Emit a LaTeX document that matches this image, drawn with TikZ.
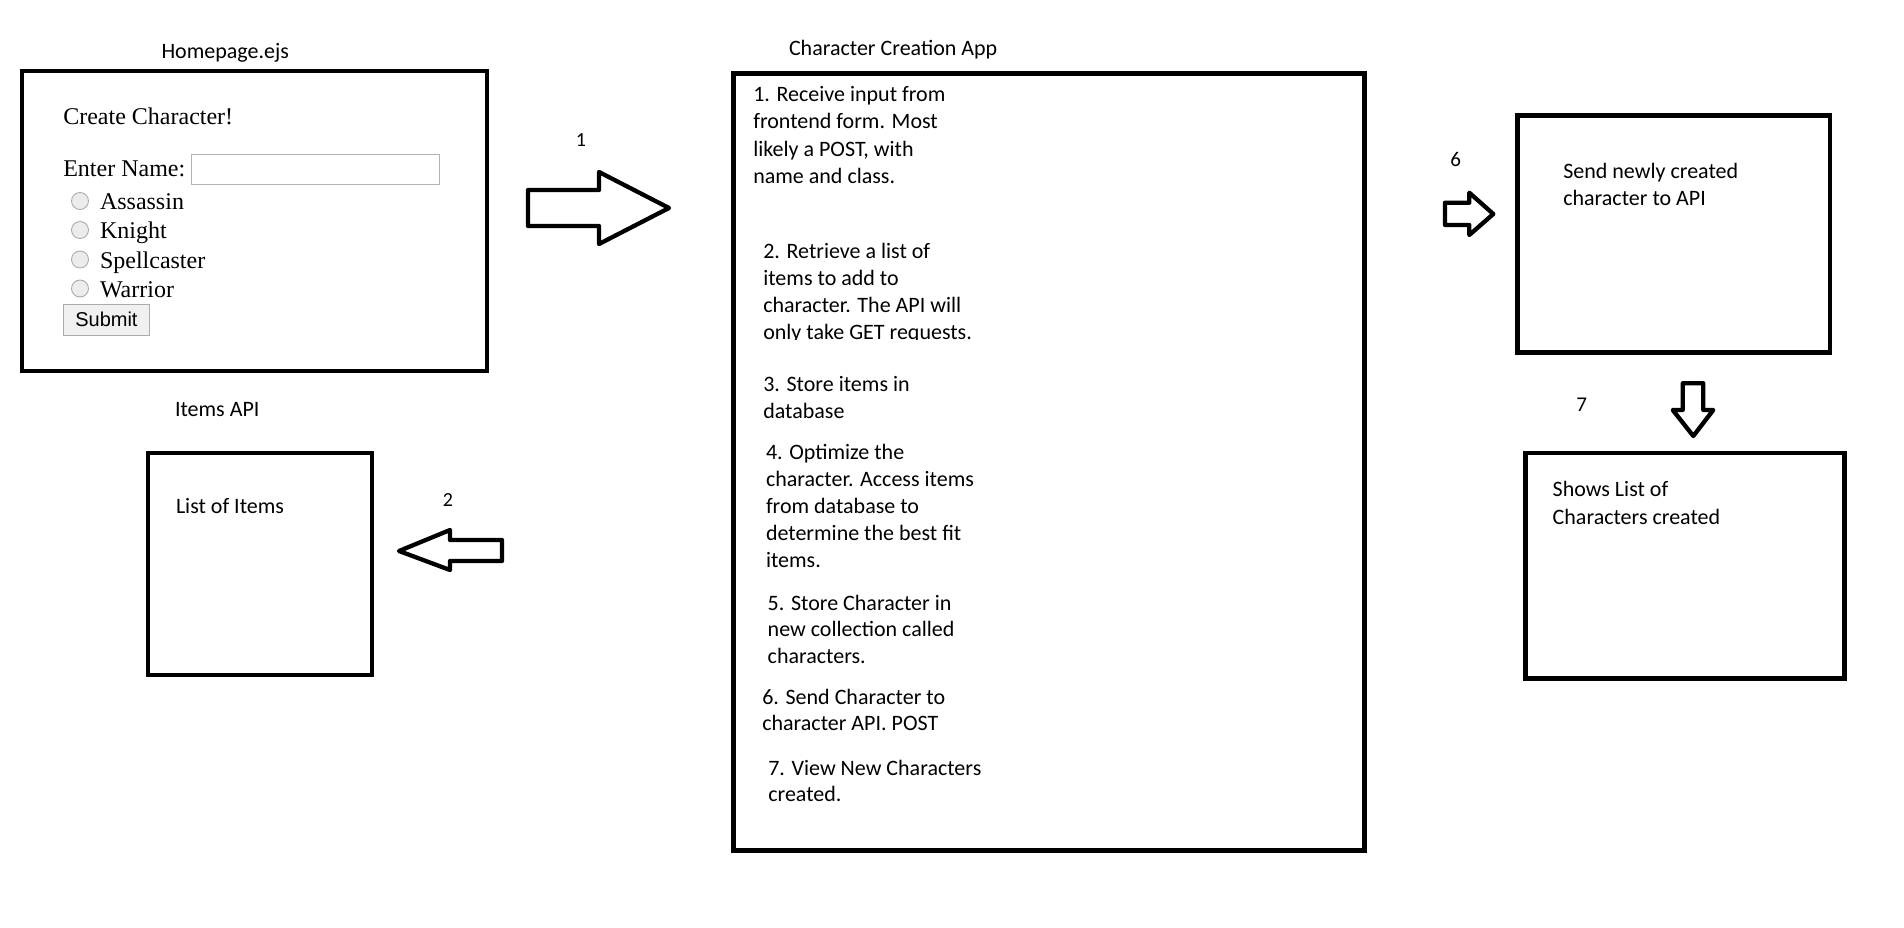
\documentclass[tikz,border=0pt]{standalone}
\usepackage{fontspec}
\setmainfont{Liberation Serif}
\newfontfamily\calfont{Carlito}
\newfontfamily\arifont{Liberation Sans}
\begin{document}
\begin{tikzpicture}[x=1pt,y=-1pt,
  box/.style={draw=black,line width=4.8pt,rectangle,inner sep=0pt},
  blockarrow/.style={draw=black,line width=4.3pt,line join=round,fill=white},
  lbl/.style={anchor=base west,inner sep=0pt,outer sep=0pt},
  txt/.style={lbl,font=\calfont\fontsize{22}{27}\selectfont},
  num/.style={anchor=base,inner sep=0pt,outer sep=0pt,font=\calfont\fontsize{20}{24}\selectfont},
  formtxt/.style={lbl,font=\fontsize{24}{28}\selectfont},
  radio/.style={circle,draw=gray!70,fill=gray!15,line width=0.8pt,minimum size=17pt,inner sep=0pt}
]
\useasboundingbox (0,0) rectangle (1904,928);
\fill[white] (0,0) rectangle (1904,928);

% ---------- Homepage ----------
\node[txt] (homet) at (161.5,58.3) {Homepage.ejs};
\node[box,minimum width=465pt,minimum height=300pt] (home) at (254.5,221) {};
\node[formtxt] (create) at (63.3,124.3) {Create Character!};
\node[formtxt] (enter) at (63.3,176.7) {Enter Name:};
\node[draw=gray!60,line width=1pt,minimum width=248pt,minimum height=30pt,inner sep=0pt] (input) at (315.5,169.5) {};
\node[radio] (r1) at (80,201) {};
\node[radio] (r2) at (80,230) {};
\node[radio] (r3) at (80,259.5) {};
\node[radio] (r4) at (80,288.5) {};
\node[formtxt] (l1) at (100,210) {Assassin};
\node[formtxt] (l2) at (100,239) {Knight};
\node[formtxt] (l3) at (100,268.3) {Spellcaster};
\node[formtxt] (l4) at (100,297.7) {Warrior};
\node[draw=gray!65,fill=gray!12,line width=0.9pt,minimum width=86pt,minimum height=31pt,inner sep=0pt] (submit) at (106,319.5) {};
\node[lbl,font=\arifont\fontsize{20}{24}\selectfont] (subt) at (75.3,326.7) {Submit};

% ---------- Arrow 1 ----------
\node[num] (n1) at (581,146.7) {1};
\draw[blockarrow] (528,190) -- (599,190) -- (599,172) -- (669,208) -- (599,244) -- (599,226) -- (528,226) -- cycle;

% ---------- Items API ----------
\node[txt] (itemst) at (175,416.7) {Items API};
\node[box,minimum width=224pt,minimum height=222pt] (items) at (260,564) {};
\node[txt] (listitems) at (176,513.3) {List of Items};
\node[num] (n2) at (448,506.7) {2};
\draw[blockarrow] (502,540) -- (450,540) -- (450,530) -- (399,551) -- (450,570) -- (450,561) -- (502,561) -- cycle;

% ---------- Character Creation App ----------
\node[txt] (appt) at (789,55.7) {Character Creation App};
\node[box,minimum width=631pt,minimum height=777pt] (app) at (1049,462) {};
\node[txt] (a11) at (753.3,101.7) {1. Receive input from};
\node[txt] (a12) at (753.3,128.9) {frontend form. Most};
\node[txt] (a13) at (753.3,156.1) {likely a POST, with};
\node[txt] (a14) at (753.3,183.3) {name and class.};
\node[txt] (a21) at (763.3,258.3) {2. Retrieve a list of};
\node[txt] (a22) at (763.3,285.5) {items to add to};
\node[txt] (a23) at (763.3,312.7) {character. The API will};
\begin{scope}
\clip (745,318) rectangle (1100,339.3);
\node[txt] (a24) at (763.3,339.9) {only take GET requests.};
\end{scope}
\node[txt] (a31) at (763.3,391.7) {3. Store items in};
\node[txt] (a32) at (763.3,418.3) {database};
\node[txt] (a41) at (766,459.3) {4. Optimize the};
\node[txt] (a42) at (766,486.3) {character. Access items};
\node[txt] (a43) at (766,513.1) {from database to};
\node[txt] (a44) at (766,540) {determine the best fit};
\node[txt] (a45) at (766,567.3) {items.};
\node[txt] (a51) at (767.7,610) {5. Store Character in};
\node[txt] (a52) at (767.7,636.7) {new collection called};
\node[txt] (a53) at (767.7,663.3) {characters.};
\node[txt] (a61) at (762.3,704) {6. Send Character to};
\node[txt] (a62) at (762.3,730.7) {character API. POST};
\node[txt] (a71) at (768.3,775) {7. View New Characters};
\node[txt] (a72) at (768.3,801.7) {created.};

% ---------- Right side ----------
\node[num,font=\calfont\fontsize{21}{24}\selectfont] (n6) at (1455.7,166.7) {6};
\draw[blockarrow] (1445,202.7) -- (1469.3,202.7) -- (1469.3,192.7) -- (1493.3,214) -- (1469.3,235) -- (1469.3,225) -- (1445,225) -- cycle;
\node[box,minimum width=312.5pt,minimum height=236.7pt] (send) at (1673.75,234.15) {};
\node[txt] (s1) at (1563.3,179) {Send newly created};
\node[txt] (s2) at (1563.3,205.7) {character to API};

\node[num,font=\calfont\fontsize{21}{24}\selectfont] (n7) at (1581.7,411.7) {7};
\draw[blockarrow] (1682.7,383.3) -- (1703.3,383.3) -- (1703.3,410) -- (1713.3,410) -- (1693.3,436) -- (1672.7,410) -- (1682.7,410) -- cycle;
\node[box,minimum width=319pt,minimum height=225.5pt] (shows) at (1685,565.75) {};
\node[txt] (h1) at (1552.7,496.7) {Shows List of};
\node[txt] (h2) at (1552.7,524) {Characters created};
\end{tikzpicture}
\end{document}
